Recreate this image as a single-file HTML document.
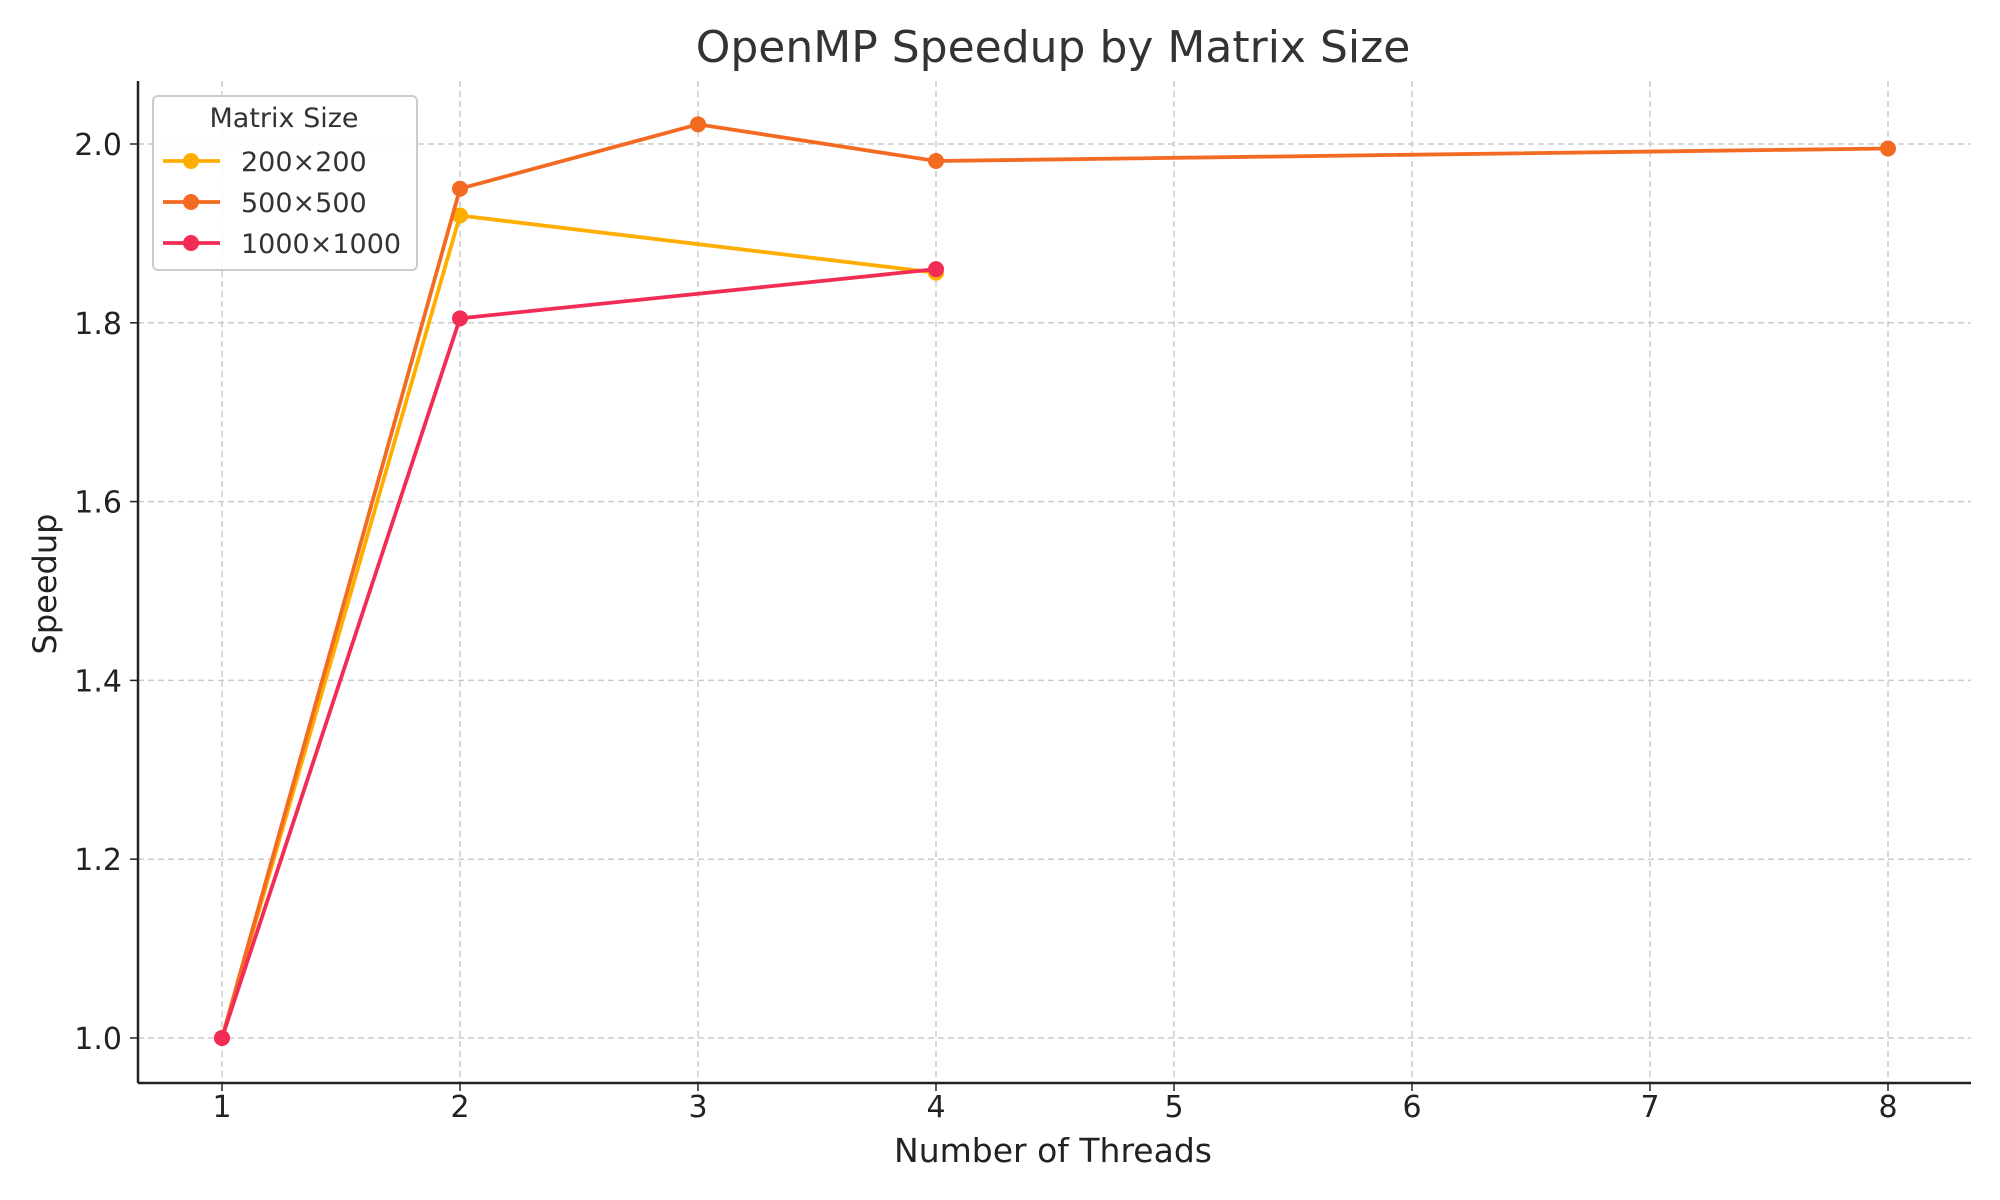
<!DOCTYPE html>
<html><head><meta charset="utf-8"><style>
html,body{margin:0;padding:0;background:#fff;}
svg{display:block;font-family:"DejaVu Sans","Liberation Sans",sans-serif;}
</style></head><body>
<svg id="chart" width="2000" height="1200" viewBox="0 0 2000 1200" xmlns="http://www.w3.org/2000/svg">
<rect width="2000" height="1200" fill="#fff"/>
<g id="grid"></g>
<g id="series"></g>
<g id="axes"></g>
<text x="1053" y="62" text-anchor="middle" font-size="44" fill="#333">OpenMP Speedup by Matrix Size</text>
<text x="1053" y="1162" text-anchor="middle" font-size="33" fill="#222">Number of Threads</text>
<text transform="translate(56,584) rotate(-90)" text-anchor="middle" font-size="32" fill="#222">Speedup</text>
<g id="legend">
<rect x="153" y="96" width="264" height="174" rx="5" fill="#fff" fill-opacity="0.85" stroke="#ccc" stroke-width="2"/>
<text x="284" y="127" text-anchor="middle" font-size="27" fill="#333">Matrix Size</text>
</g>
</svg>
<script>
const xTicks = [1,2,3,4,5,6,7,8];
const yTicks = [1.0,1.2,1.4,1.6,1.8,2.0];
const seriesNames = ["200×200","500×500","1000×1000"];
const seriesColors = ["#FFAE00","#F36B22","#F22D55"];
const x200 = [1,2,4];
const y200 = [1.0,1.92,1.856];
const x500 = [1,2,3,4,8];
const y500 = [1.0,1.95,2.022,1.981,1.995];
const x1000 = [1,2,4];
const y1000 = [1.0,1.805,1.860];

const NS="http://www.w3.org/2000/svg";
const L=138,R=1971,T=81,B=1083;
function sx(v){return 222+(v-1)*(1888-222)/7;}
function sy(v){return 1038-(v-1)*(1038-144)/1;}
function mk(tag,attrs,parent){const e=document.createElementNS(NS,tag);for(const k in attrs)e.setAttribute(k,attrs[k]);parent.appendChild(e);return e;}
const grid=document.getElementById('grid'),axes=document.getElementById('axes'),ser=document.getElementById('series'),leg=document.getElementById('legend');
xTicks.forEach(t=>{
  const g=mk('line',{x1:sx(t),x2:sx(t),y1:T,y2:B,stroke:'#ccc','stroke-width':1.5,'stroke-dasharray':'6,4'},grid);
  
  
  const tk=mk('line',{x1:sx(t),x2:sx(t),y1:B,y2:B+8,stroke:'#222','stroke-width':1.5},axes);
  
  
  const tx=mk('text',{x:sx(t),y:B+34,'text-anchor':'middle','font-size':30,fill:'#222'},axes);
  tx.textContent=String(t);
  
  
});
yTicks.forEach(t=>{
  const g=mk('line',{x1:L,x2:R,y1:sy(t),y2:sy(t),stroke:'#ccc','stroke-width':1.5,'stroke-dasharray':'6,4'},grid);
  
  
  const tk=mk('line',{x1:L-8,x2:L,y1:sy(t),y2:sy(t),stroke:'#222','stroke-width':1.5},axes);
  
  
  const tx=mk('text',{x:L-16,y:sy(t)+11,'text-anchor':'end','font-size':30,fill:'#222'},axes);
  tx.textContent=t.toFixed(1);
  
  
});
const al=mk('line',{x1:L,x2:L,y1:T,y2:B,stroke:'#222','stroke-width':2.5},axes);


const ab=mk('line',{x1:L,x2:R,y1:B,y2:B,stroke:'#222','stroke-width':2.5},axes);


const allX=[x200,x500,x1000],allY=[y200,y500,y1000];
allX.forEach((xs,i)=>{
  const pts=xs.map((v,j)=>sx(v)+','+sy(allY[i][j])).join(' ');
  const pl=mk('polyline',{points:pts,fill:'none',stroke:seriesColors[i],'stroke-width':3.8,'stroke-linejoin':'round'},ser);
  
  
  xs.forEach((v,j)=>{
    const c=mk('circle',{cx:sx(v),cy:sy(allY[i][j]),r:8,fill:seriesColors[i]},ser);
    
    
  });
  const ly=161+i*41;
  const ll=mk('line',{x1:163,x2:220,y1:ly,y2:ly,stroke:seriesColors[i],'stroke-width':3.8},leg);
  
  
  const lc=mk('circle',{cx:191,cy:ly,r:8,fill:seriesColors[i]},leg);
  
  
  const lt=mk('text',{x:241,y:ly+10,'font-size':27,fill:'#333'},leg);
  lt.textContent=seriesNames[i];
  
  
});
</script>
</body></html>
